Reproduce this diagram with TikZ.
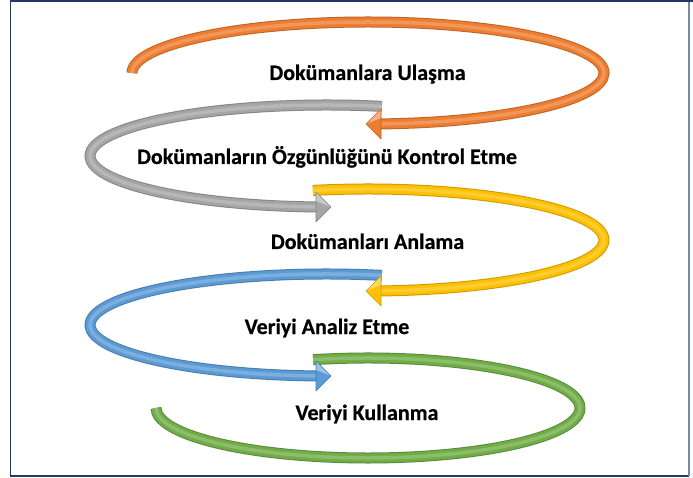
\documentclass[tikz,border=0pt]{standalone}
\usepackage{fontspec}
\setmainfont{Carlito}[BoldFeatures={FakeBold=0.6}]
\usetikzlibrary{calc}
\definecolor{cOr}{HTML}{ED7D31}
\definecolor{cGr}{HTML}{A5A5A5}
\definecolor{cYe}{HTML}{FFC000}
\definecolor{cBl}{HTML}{5B9BD5}
\definecolor{cGn}{HTML}{70AD47}
\definecolor{frameNavy}{RGB}{31,56,100}
\definecolor{frameLight}{RGB}{120,135,170}
% #1 centre, #2 x radius, #3 y radius, #4 start, #5 end, #6 colour
\newcommand\tubeArc[6]{%
  \foreach \w/\c in {11/#6!80!black, 9/#6, 3.5/#6!80!white}{%
    \draw[line width=\w pt, \c] ($(#1)+(#4:#2pt and #3pt)$)
      arc[start angle=#4, end angle=#5, x radius=#2pt, y radius=#3pt];
  }%
}
% #1 tip x, #2 tip y, #3 back offset (+15 left-pointing, -15 right-pointing), #4 colour
\newcommand\arrowHead[4]{%
  \fill[#4] (#1,#2) -- ++(#3,15) -- ++(0,-30) -- cycle;
  \fill[#4!60!white] (#1,#2) -- ++(#3,15) -- ++(0,-9) -- cycle;
  \draw[#4!80!black, line width=.6pt, line join=round] (#1,#2) -- ++(#3,15) -- ++(0,-30) -- cycle;
}
\begin{document}
\begin{tikzpicture}[x=1pt,y=1pt,
  lbl/.style={font=\bfseries\fontsize{22}{26}\selectfont, text=black, inner sep=0pt, anchor=base}]
\useasboundingbox (0,0) rectangle (693,477);
\fill[white] (0,0) rectangle (693,477);
% frame
\draw[frameNavy, line width=1.6pt] (689,1) -- (10.5,1) -- (10.5,476) -- (689,476);
\draw[frameLight, line width=1.6pt] (689,1) -- (689,476);
\draw[frameNavy, line width=2.5pt] (10,476.5) -- (693,476.5);
% centres
\coordinate (cO) at (368,404);
\coordinate (cG) at (327,321);
\coordinate (cY) at (368,237);
\coordinate (cB) at (327,152);
\coordinate (cN) at (368,69);
% green
\tubeArc{cN}{212}{50}{105}{-180}{cGn}
% blue
\tubeArc{cB}{237}{51}{76.6}{267.3}{cBl}
\arrowHead{331}{101}{-15}{cBl}
% yellow
\tubeArc{cY}{236}{51}{103.5}{-86.8}{cYe}
\arrowHead{366}{186}{15}{cYe}
% gray
\tubeArc{cG}{237}{51}{76.6}{267.3}{cGr}
\arrowHead{331}{270}{-15}{cGr}
% orange
\tubeArc{cO}{236}{51}{180}{-86.8}{cOr}
\arrowHead{366}{353}{15}{cOr}
% labels
\node[lbl] (t1) at (367.5,397) {Dokümanlara Ulaşma};
\node[lbl] (t2) at (327,313) {Dokümanların Özgünlüğünü Kontrol Etme};
\node[lbl] (t3) at (367.5,228) {Dokümanları Anlama};
\node[lbl] (t4) at (327,143) {Veriyi Analiz Etme};
\node[lbl] (t5) at (367,57) {Veriyi Kullanma};
\end{tikzpicture}
\end{document}
